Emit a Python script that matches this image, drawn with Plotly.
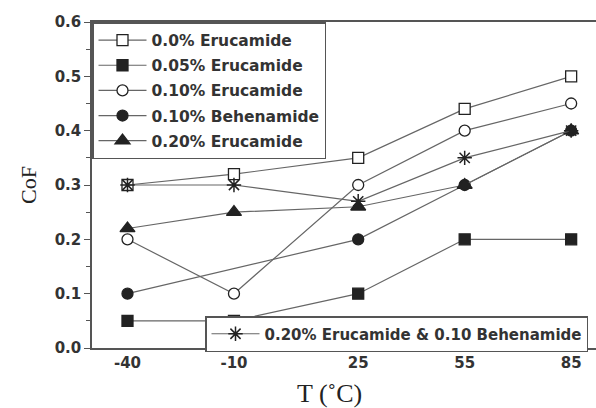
import plotly.graph_objects as go

temps = [-40, -10, 25, 55, 85]
tick_labels = ["-40", "-10", "25", "55", "85"]

eru_000 = [0.30, 0.32, 0.35, 0.44, 0.50]
eru_005 = [0.05, 0.05, 0.10, 0.20, 0.20]
eru_010 = [0.20, 0.10, 0.30, 0.40, 0.45]
beh_010 = [0.10, None, 0.20, 0.30, 0.40]
eru_020 = [0.22, 0.25, 0.26, 0.30, 0.40]
eru_beh = [0.30, 0.30, 0.27, 0.35, 0.40]

y_ticks = [0.0, 0.1, 0.2, 0.3, 0.4, 0.5, 0.6]

LINE = "#666666"
MK = "#222222"
TXT = "#333333"
FONT = "DejaVu Sans"

series = [
    ("0.0% Erucamide", eru_000, "square", "white"),
    ("0.05% Erucamide", eru_005, "square", MK),
    ("0.10% Erucamide", eru_010, "circle", "white"),
    ("0.10% Behenamide", beh_010, "circle", MK),
    ("0.20% Erucamide", eru_020, "triangle-up", MK),
]

fig = go.Figure()
for i, (name, vals, sym, fill) in enumerate(series):
    fig.add_trace(go.Scatter(
        x=temps, y=vals, name=name, mode="lines+markers",
        connectgaps=True, legendgroup=f"g{i}",
        line=dict(color=LINE, width=1.2),
        marker=dict(symbol=sym, size=11 if sym != "triangle-up" else 13,
                    color=fill, line=dict(color=MK, width=1.3)),
        legend="legend",
    ))

fig.add_trace(go.Scatter(
    x=temps, y=eru_beh, name="0.20% Erucamide & 0.10 Behenamide",
    mode="lines+markers",
    line=dict(color=LINE, width=1.2),
    marker=dict(symbol="asterisk", size=12, color=MK, line=dict(color=MK, width=1.5)),
    legend="legend2",
))

fig.update_layout(
    width=596, height=408,
    margin=dict(l=92, r=0, t=22, b=60, autoexpand=False),
    paper_bgcolor="white", plot_bgcolor="white",
    showlegend=True,
    legend=dict(
        x=0.0, y=1.0, xanchor="left", yanchor="top",
        bgcolor="white", bordercolor="#555555", borderwidth=1.5,
        font=dict(family=FONT, size=15.5, color=TXT, weight="bold"),
        itemwidth=48, tracegroupgap=2,
        traceorder="grouped",
    ),
    legend2=dict(
        x=(205 - 92) / 504, y=-4 / 326, xanchor="left", yanchor="bottom",
        bgcolor="white", bordercolor="#555555", borderwidth=1.5,
        font=dict(family=FONT, size=15, color=TXT, weight="bold"),
        itemwidth=48,
    ),
    xaxis=dict(
        range=[-50, 92], tickmode="array", tickvals=temps, ticktext=tick_labels,
        showline=True, linecolor="#555555", linewidth=1.5, mirror=True,
        ticks="", showgrid=False, zeroline=False,
        tickfont=dict(family=FONT, size=15, color=TXT, weight="bold"),
    ),
    yaxis=dict(
        range=[0, 0.6], tickmode="array", tickvals=y_ticks, tickformat=".1f",
        showline=True, linecolor="#555555", linewidth=1.5,
        ticks="outside", ticklen=6, tickwidth=1.2, tickcolor="#555555",
        minor=dict(dtick=0.05, ticks="outside", ticklen=4, tickcolor="#555555", tickwidth=1),
        showgrid=False, zeroline=False,
        tickfont=dict(family=FONT, size=15, color=TXT, weight="bold"),
        title=dict(text="CoF", font=dict(family="Liberation Serif", size=22, color="#222222"),
                   standoff=12),
    ),
    annotations=[dict(
        text="T (˚C)", x=17, xref="x", y=-0.14, yref="paper",
        xanchor="center", yanchor="middle", showarrow=False,
        font=dict(family="Liberation Serif", size=26, color="#222222"),
    )],
)

fig.write_html("out.html")
